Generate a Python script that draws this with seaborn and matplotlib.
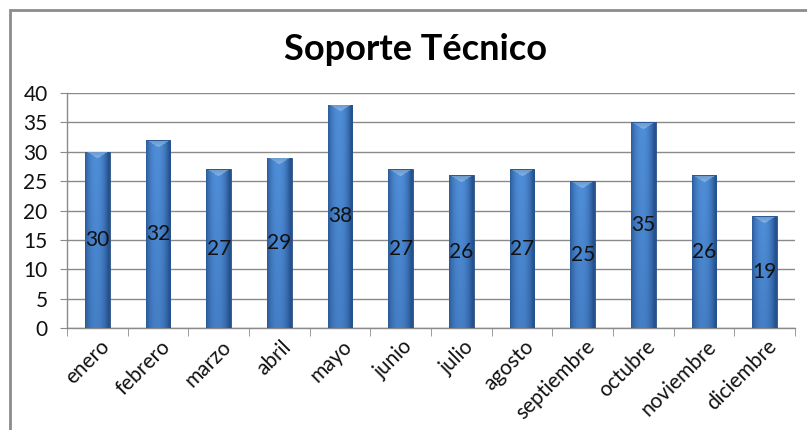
import numpy as np
import pandas as pd
import seaborn as sns
import matplotlib
matplotlib.use('agg')
import matplotlib.pyplot as plt
from matplotlib.patches import Rectangle
from matplotlib.colors import to_rgb
from matplotlib.ticker import FixedLocator
import matplotlib.transforms as mtrans

# data
meses = ['enero', 'febrero', 'marzo', 'abril', 'mayo', 'junio', 'julio',
         'agosto', 'septiembre', 'octubre', 'noviembre', 'diciembre']
casos = [30, 32, 27, 29, 38, 27, 26, 27, 25, 35, 26, 19]
titulo = 'Soporte Técnico'

sns.set_style('white')
plt.rcParams['font.family'] = ['Lato', 'DejaVu Sans']

df = pd.DataFrame({'mes': meses, 'casos': casos})

fig = plt.figure(figsize=(8.07, 4.30), dpi=100)
fig.patch.set_facecolor('white')
# chart frame (runs off the right and bottom edge like the screenshot)
fig.patches.append(Rectangle((10 / 807, -0.1), 1.2, 1 - 10 / 430 + 0.1,
                             transform=fig.transFigure, fill=False,
                             edgecolor='#8c8c8c', linewidth=2, zorder=0))

ax = fig.add_axes([67 / 807, 1 - 328 / 430, (795 - 67) / 807, (328 - 93) / 430])
sns.barplot(data=df, x='mes', y='casos', color='#3f78c0', width=0.41,
            ax=ax, zorder=3)

ax.set_ylim(0, 40)
ax.set_xlim(-0.5, len(meses) - 0.5)
ax.set_yticks(range(0, 41, 5))
ax.yaxis.grid(True, color='#8a8a8a', linewidth=1)
ax.set_axisbelow(True)
for s in ['top', 'right']:
    ax.spines[s].set_visible(False)
for s in ['left', 'bottom']:
    ax.spines[s].set_color('#8a8a8a')
    ax.spines[s].set_linewidth(1)
ax.set_xlabel('')
ax.set_ylabel('')
ax.tick_params(axis='y', length=5, color='#8a8a8a', pad=9, labelsize=15,
               labelcolor='#111111', left=True)
ax.tick_params(axis='x', which='major', length=0, pad=6, labelsize=15,
               labelcolor='#111111')
ax.xaxis.set_minor_locator(FixedLocator(np.arange(-0.5, len(meses), 1.0)))
ax.tick_params(axis='x', which='minor', length=6, color='#8a8a8a', bottom=True)
plt.setp(ax.get_xticklabels(), rotation=45, ha='right', rotation_mode='anchor')
off = mtrans.ScaledTranslation(2 / 100, 0, fig.dpi_scale_trans)
for lab in ax.get_xticklabels():
    lab.set_transform(lab.get_transform() + off)

# cylinder-like shading on every bar
fig.canvas.draw()
dark = np.array(to_rgb('#26528f'))
light = np.array(to_rgb('#4f8ed8'))
cap = np.array(to_rgb('#7fb4ec'))
for bar in ax.patches:
    x0, y0 = bar.get_x(), bar.get_y()
    w, h = bar.get_width(), bar.get_height()
    ext = bar.get_window_extent()
    nx = max(int(ext.width), 2)
    ny = max(int(ext.height), 2)
    u = np.linspace(-1, 1, nx)
    prof = np.clip(1 - np.abs(u + 0.1) ** 2.2, 0, 1)
    v = np.linspace(0, 1, ny)[:, None]  # 0 top, 1 bottom
    shade = prof[None, :] * (1 - 0.25 * v)
    img = dark + (light - dark) * shade[..., None]
    # light cap at the top
    capn = min(7, ny)
    for r in range(capn):
        half = (1 - r / capn) * 0.9
        m = np.abs(u) < half
        img[r, m] = cap * (0.85 + 0.15 * (r / capn))
    img[0, :] = dark * 0.9 + cap * 0.1
    im = ax.imshow(np.clip(img, 0, 1), extent=(x0, x0 + w, y0, y0 + h),
                   aspect='auto', origin='upper', zorder=4, interpolation='bilinear')
    im.set_clip_path(bar)
    bar.set_edgecolor('#2a4f80')
    bar.set_linewidth(0.6)
ax.set_xlim(-0.5, len(meses) - 0.5)
ax.set_ylim(0, 40)

for i, v in enumerate(casos):
    ax.text(i, v / 2, str(v), ha='center', va='center', fontsize=15,
            color='#111111', zorder=6)

fig.text(415 / 807, 1 - 50 / 430, titulo, ha='center', va='center',
         fontsize=26, fontweight='bold', color='#000000')

plt.savefig('out.png', dpi=100)
plt.close()
